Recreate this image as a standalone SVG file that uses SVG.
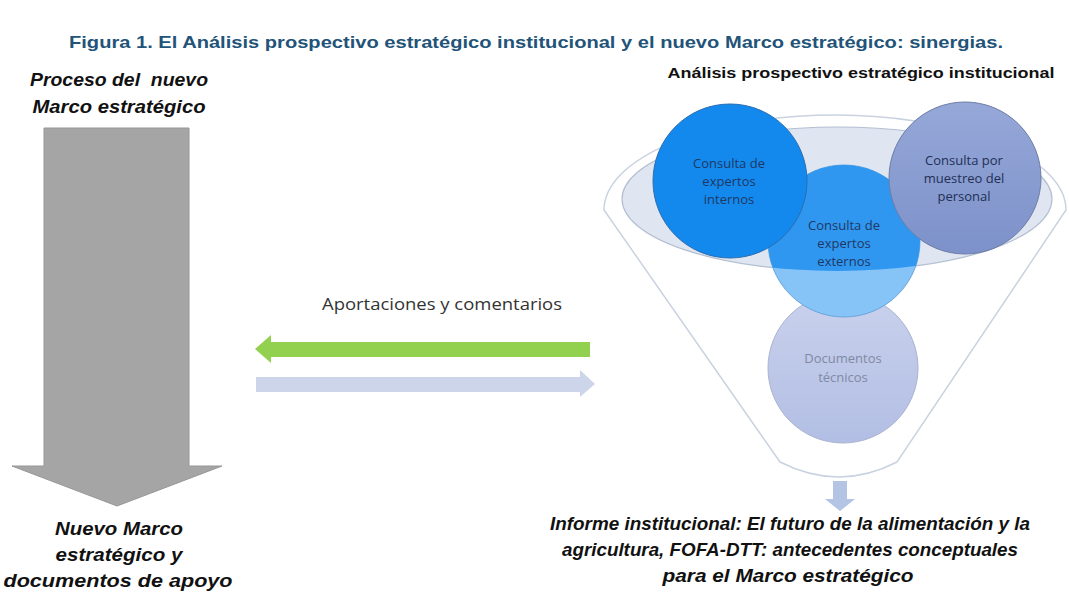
<svg xmlns="http://www.w3.org/2000/svg" width="1069" height="594" viewBox="0 0 1069 594">
<style>
.title{font-family:"Liberation Sans",Arial,sans-serif;font-weight:bold;font-size:17px;fill:#225378}
.bi{font-family:"Liberation Sans",Arial,sans-serif;font-weight:bold;font-style:italic;font-size:19px;fill:#111}
.hdr{font-family:"Liberation Sans",Arial,sans-serif;font-weight:bold;font-size:14px;fill:#111}
.ct{font-family:"Open Sans","Liberation Sans",sans-serif;font-size:13px;text-anchor:middle}
.lbl{font-family:"Open Sans","Liberation Sans",sans-serif;font-size:16px;fill:#333}
</style>
<defs>
<linearGradient id="g2" x1="0" y1="0" x2="0" y2="1"><stop offset="0" stop-color="#96a8d8"/><stop offset="1" stop-color="#7d91ca"/></linearGradient>
<linearGradient id="g4" x1="0" y1="0" x2="0" y2="1"><stop offset="0" stop-color="#c9d1ec"/><stop offset="1" stop-color="#b2bee4"/></linearGradient>
<clipPath id="inner"><ellipse cx="837" cy="199" rx="215" ry="72"/></clipPath>
</defs>
<rect width="1069" height="594" fill="#fff"/>
<text class="title" x="536" y="48" text-anchor="middle" textLength="934" lengthAdjust="spacingAndGlyphs">Figura 1. El Análisis prospectivo estratégico institucional y el nuevo Marco estratégico: sinergias.</text>

<g id="left-process">
<text class="bi" x="119" y="86" text-anchor="middle" textLength="178" lengthAdjust="spacingAndGlyphs">Proceso del&#160; nuevo</text>
<text class="bi" x="119" y="113" text-anchor="middle" textLength="173" lengthAdjust="spacingAndGlyphs">Marco estratégico</text>
<polygon points="44,128 189,128 189,466 222,466 117,506 12,466 44,466" fill="#a5a5a5" stroke="#979797" stroke-width="1"/>
<text class="bi" x="119" y="535" text-anchor="middle" textLength="128" lengthAdjust="spacingAndGlyphs">Nuevo Marco</text>
<text class="bi" x="119" y="561" text-anchor="middle" textLength="127" lengthAdjust="spacingAndGlyphs">estratégico y</text>
<text class="bi" x="118" y="587" text-anchor="middle" textLength="229" lengthAdjust="spacingAndGlyphs">documentos de apoyo</text>
</g>

<g id="connectors">
<text class="lbl" x="442" y="310" text-anchor="middle" textLength="240" lengthAdjust="spacingAndGlyphs">Aportaciones y comentarios</text>
<polygon points="590,342 271,342 271,335 255,349 271,363 271,357 590,357" fill="#92d050"/>
<polygon points="256,377 580,377 580,370 595,384 580,397 580,392 256,392" fill="#cdd5eb"/>
<polygon points="833,481 847,481 847,499 855,499 840,511 825,499 833,499" fill="#b4c4e4"/>
</g>

<g id="funnel">
<path d="M780,462 L604,210 A231,95 0 0 1 1066,210 L897,462 Q839,492 780,462 Z" fill="#fff" stroke="#c9d2e0" stroke-width="1.5"/>
<ellipse cx="837" cy="199" rx="215" ry="72" fill="#dfe6f1" stroke="#b3bfd1" stroke-width="1.2"/>
<text class="hdr" x="861" y="78" text-anchor="middle" textLength="387" lengthAdjust="spacingAndGlyphs">Análisis prospectivo estratégico institucional</text>
</g>

<g id="documentos">
<circle cx="843" cy="368" r="75" fill="url(#g4)" stroke="#a9b3cf" stroke-width="1"/>
<text class="ct" x="843" y="363" fill="#7f8aa5">Documentos</text>
<text class="ct" x="843" y="382" fill="#7f8aa5">técnicos</text>
</g>

<g id="externos">
<circle cx="844" cy="241" r="76" fill="#86c4f8" stroke="#6aa6dc" stroke-width="1"/>
<circle cx="844" cy="241" r="76" fill="#2f97f0" clip-path="url(#inner)"/>
<text class="ct" x="844" y="230" fill="#1f3864">Consulta de</text>
<text class="ct" x="844" y="248" fill="#1f3864">expertos</text>
<text class="ct" x="844" y="266" fill="#1f3864">externos</text>
</g>

<g id="internos">
<circle cx="730" cy="181" r="77" fill="#1389ee" stroke="#2b6db0" stroke-width="1"/>
<text class="ct" x="729" y="168" fill="#1f3864">Consulta de</text>
<text class="ct" x="729" y="186" fill="#1f3864">expertos</text>
<text class="ct" x="729" y="204" fill="#1f3864">internos</text>
</g>

<g id="personal">
<circle cx="965" cy="178" r="76" fill="url(#g2)" stroke="#6c7ca6" stroke-width="1"/>
<text class="ct" x="964" y="165" fill="#1f2f55">Consulta por</text>
<text class="ct" x="964" y="183" fill="#1f2f55">muestreo del</text>
<text class="ct" x="964" y="201" fill="#1f2f55">personal</text>
</g>

<g id="informe">
<text class="bi" x="790" y="530" text-anchor="middle" textLength="480" lengthAdjust="spacingAndGlyphs">Informe institucional: El futuro de la alimentación y la</text>
<text class="bi" x="790" y="556" text-anchor="middle" textLength="456" lengthAdjust="spacingAndGlyphs">agricultura, FOFA-DTT: antecedentes conceptuales</text>
<text class="bi" x="788" y="582" text-anchor="middle" textLength="251" lengthAdjust="spacingAndGlyphs">para el Marco estratégico</text>
</g>
</svg>
